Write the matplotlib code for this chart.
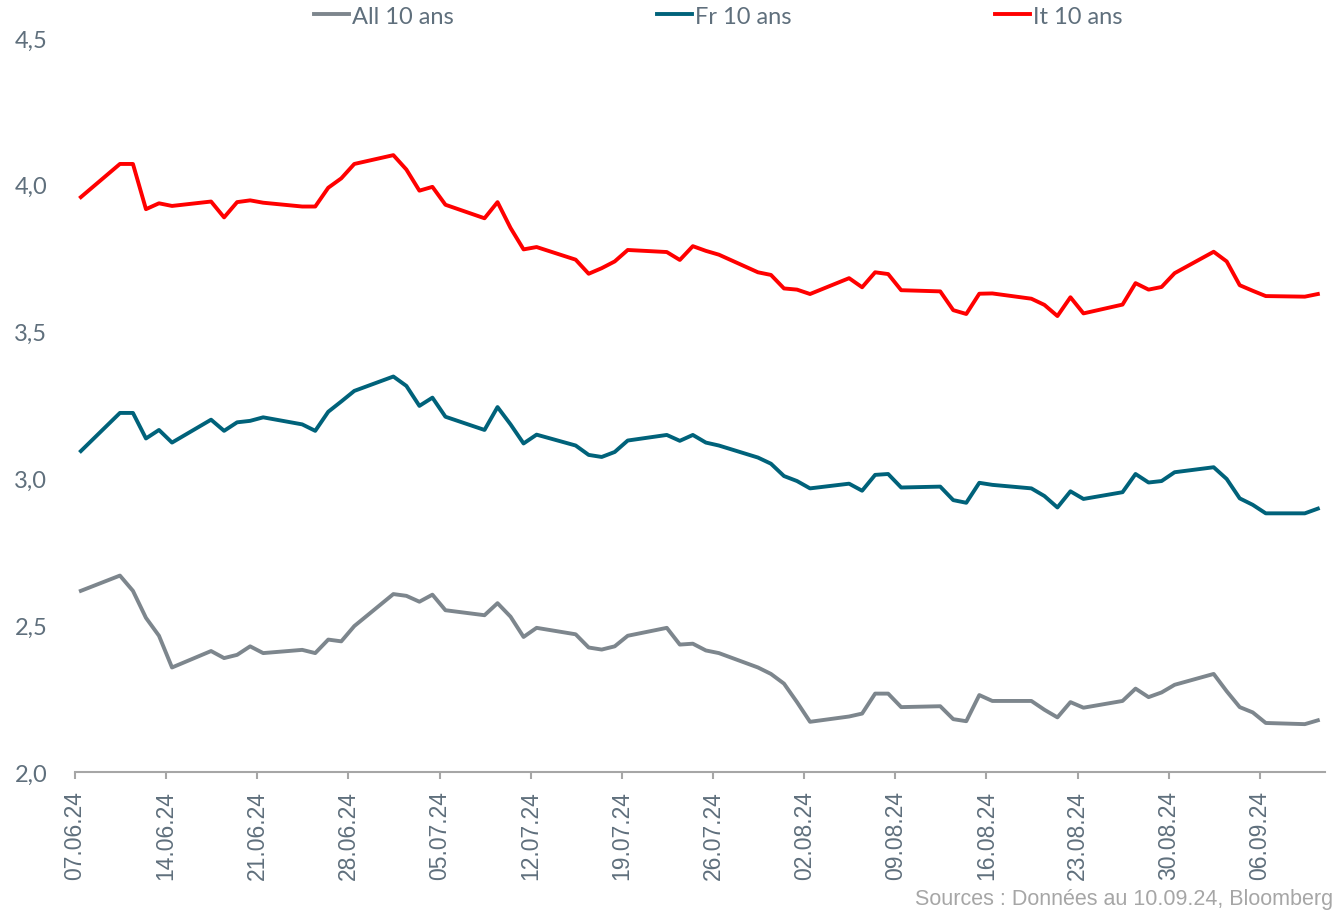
import pandas as pd
import matplotlib.pyplot as plt
import matplotlib.dates as mdates
import matplotlib

matplotlib.rcParams["font.family"] = "Liberation Sans"

# Rendements à 10 ans (jours ouvrés)
dates = [
    "07.06.24", "10.06.24", "11.06.24", "12.06.24", "13.06.24", "14.06.24",
    "17.06.24", "18.06.24", "19.06.24", "20.06.24", "21.06.24",
    "24.06.24", "25.06.24", "26.06.24", "27.06.24", "28.06.24",
    "01.07.24", "02.07.24", "03.07.24", "04.07.24", "05.07.24",
    "08.07.24", "09.07.24", "10.07.24", "11.07.24", "12.07.24",
    "15.07.24", "16.07.24", "17.07.24", "18.07.24", "19.07.24",
    "22.07.24", "23.07.24", "24.07.24", "25.07.24", "26.07.24",
    "29.07.24", "30.07.24", "31.07.24", "01.08.24", "02.08.24",
    "05.08.24", "06.08.24", "07.08.24", "08.08.24", "09.08.24",
    "12.08.24", "13.08.24", "14.08.24", "15.08.24", "16.08.24",
    "19.08.24", "20.08.24", "21.08.24", "22.08.24", "23.08.24",
    "26.08.24", "27.08.24", "28.08.24", "29.08.24", "30.08.24",
    "02.09.24", "03.09.24", "04.09.24", "05.09.24", "06.09.24",
    "09.09.24", "10.09.24",
]

it_10 = [
    3.958, 4.071, 4.071, 3.917, 3.937, 3.928,
    3.943, 3.889, 3.941, 3.947, 3.939,
    3.926, 3.926, 3.990, 4.022, 4.071,
    4.101, 4.052, 3.980, 3.993, 3.932,
    3.886, 3.941, 3.853, 3.780, 3.788,
    3.745, 3.697, 3.716, 3.739, 3.778,
    3.771, 3.744, 3.791, 3.775, 3.762,
    3.702, 3.693, 3.647, 3.643, 3.628,
    3.682, 3.651, 3.702, 3.696, 3.641,
    3.637, 3.573, 3.560, 3.629, 3.630,
    3.612, 3.591, 3.553, 3.617, 3.562,
    3.592, 3.665, 3.643, 3.652, 3.699,
    3.772, 3.739, 3.658, 3.639, 3.621,
    3.619, 3.628,
]

fr_10 = [
    3.093, 3.223, 3.223, 3.136, 3.165, 3.122,
    3.200, 3.162, 3.191, 3.196, 3.208,
    3.184, 3.162, 3.227, 3.262, 3.298,
    3.347, 3.315, 3.247, 3.275, 3.210,
    3.165, 3.243, 3.184, 3.119, 3.149,
    3.112, 3.080, 3.073, 3.090, 3.129,
    3.148, 3.128, 3.148, 3.122, 3.112,
    3.071, 3.050, 3.008, 2.991, 2.966,
    2.982, 2.958, 3.012, 3.015, 2.969,
    2.972, 2.926, 2.917, 2.985, 2.978,
    2.966, 2.940, 2.901, 2.956, 2.930,
    2.953, 3.015, 2.986, 2.991, 3.021,
    3.038, 2.998, 2.932, 2.910, 2.881,
    2.881, 2.897,
]

all_10 = [
    2.617, 2.669, 2.617, 2.525, 2.464, 2.356,
    2.412, 2.388, 2.399, 2.428, 2.405,
    2.416, 2.405, 2.451, 2.445, 2.497,
    2.606, 2.600, 2.580, 2.604, 2.551,
    2.534, 2.575, 2.529, 2.460, 2.491,
    2.469, 2.424, 2.417, 2.428, 2.464,
    2.491, 2.434, 2.437, 2.414, 2.405,
    2.356, 2.334, 2.301, 2.238, 2.171,
    2.189, 2.199, 2.267, 2.267, 2.221,
    2.224, 2.180, 2.173, 2.262, 2.242,
    2.242, 2.212, 2.186, 2.238, 2.219,
    2.242, 2.284, 2.255, 2.271, 2.297,
    2.334, 2.275, 2.221, 2.203, 2.167,
    2.163, 2.176,
]

tick_dates = [
    "07.06.24", "14.06.24", "21.06.24", "28.06.24", "05.07.24", "12.07.24",
    "19.07.24", "26.07.24", "02.08.24", "09.08.24", "16.08.24", "23.08.24",
    "30.08.24", "06.09.24",
]
y_ticks = [2.0, 2.5, 3.0, 3.5, 4.0, 4.5]

TEXT = "#5f6f7c"
AXIS = "#a6a6a6"

x = mdates.date2num(pd.to_datetime(dates, format="%d.%m.%y")) + 0.45
xt = mdates.date2num(pd.to_datetime(tick_dates, format="%d.%m.%y"))
x0 = xt[0]

fig = plt.figure(figsize=(13.38, 9.12), dpi=100)
ax = fig.add_axes([75 / 1338, 1 - 773 / 912, 1250 / 1338, 734 / 912])

ax.plot(x, all_10, color="#7d868d", lw=2.8, label="All 10 ans")
ax.plot(x, fr_10, color="#00627a", lw=2.8, label="Fr 10 ans")
ax.plot(x, it_10, color="#ff0000", lw=2.8, label="It 10 ans")

ax.set_xlim(x0, x0 + 96)
ax.set_ylim(2.0, 4.5)

ax.set_xticks(xt)
ax.set_xticklabels(tick_dates, rotation=90, fontsize=16.5, color=TEXT)
ax.set_yticks(y_ticks)
ax.set_yticklabels([f"{v:.1f}".replace(".", ",") for v in y_ticks],
                   fontsize=17, color=TEXT, family="Lato")

for s in ["top", "right", "left"]:
    ax.spines[s].set_visible(False)
ax.spines["bottom"].set_color(AXIS)
ax.spines["bottom"].set_linewidth(1.5)
ax.tick_params(axis="x", length=5, width=1.5, color=AXIS, pad=8)
ax.tick_params(axis="y", length=0, pad=20)

fig.legend(loc="center", bbox_to_anchor=(718 / 1338, 1 - 17 / 912),
           ncol=3, frameon=False, handlelength=1.5, handletextpad=0.12,
           columnspacing=8.6, prop={"family": "Lato", "size": 17},
           labelcolor=TEXT)

fig.text(1333 / 1338, 1 - 900 / 912, "Sources : Données au 10.09.24, Bloomberg",
         ha="right", va="center", fontsize=15.5, color="#a6a6a6")

plt.savefig("out.png", dpi=100)
